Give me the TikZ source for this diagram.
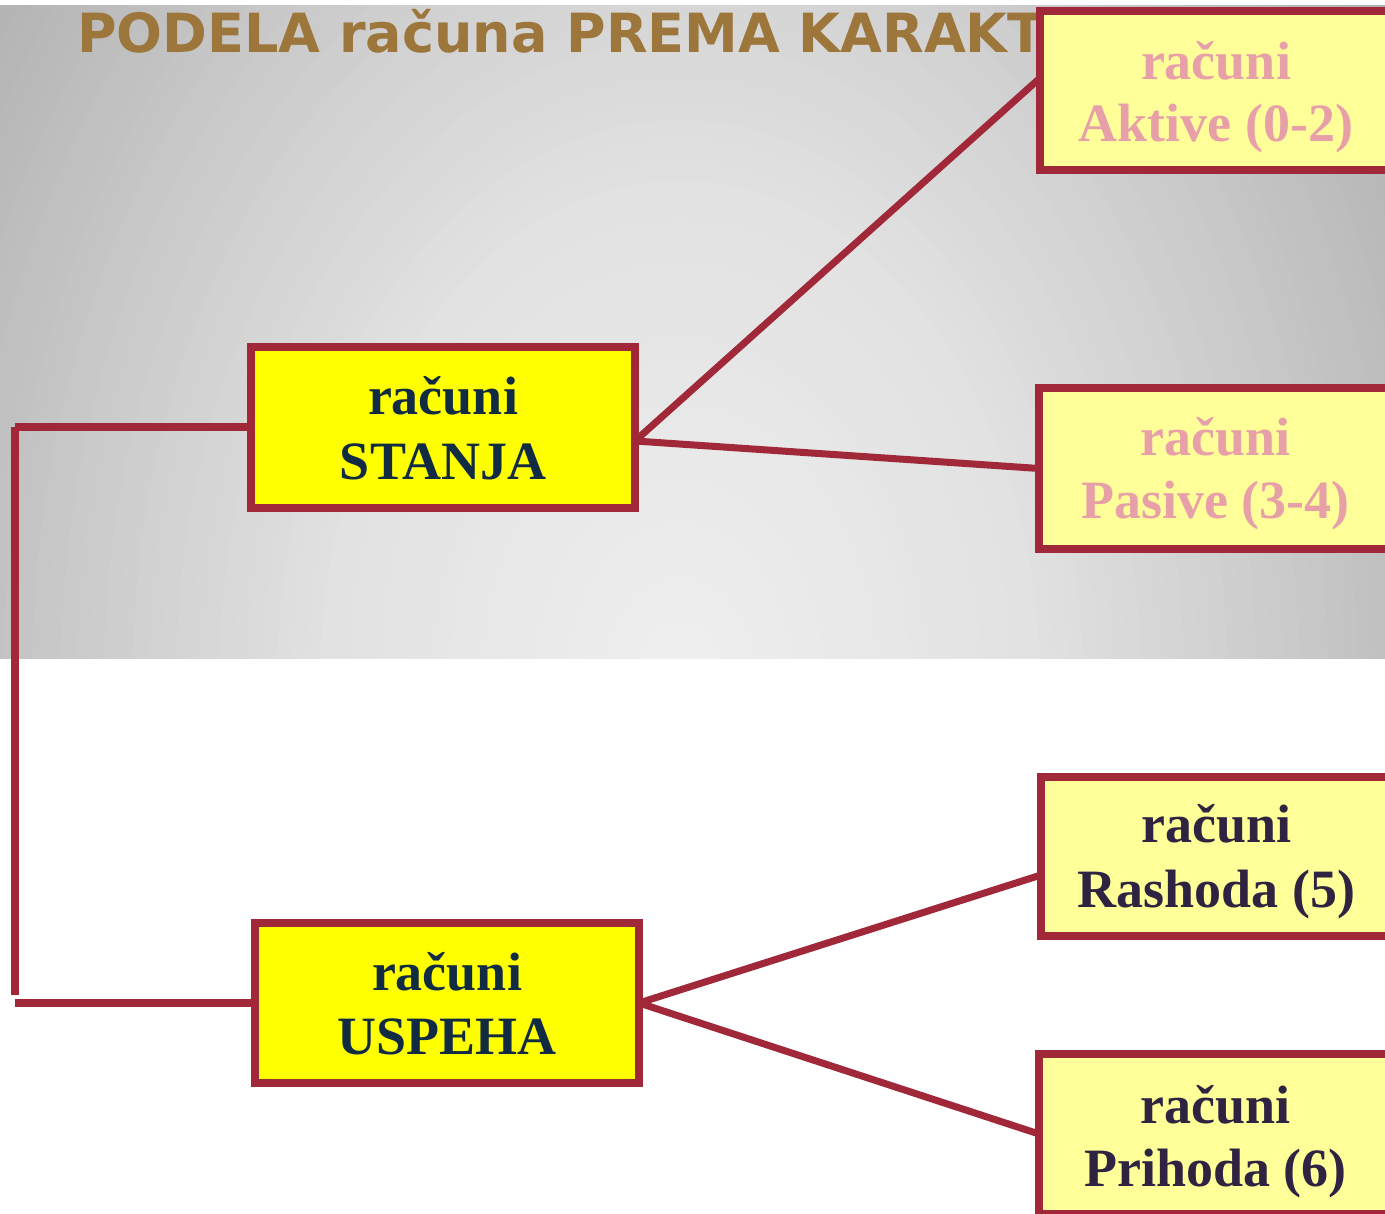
\documentclass[tikz,border=0pt]{standalone}
\usepackage{fontspec}
\setmainfont{Liberation Serif}
\newfontfamily\titlefont{DejaVu Sans}
\definecolor{conncol}{RGB}{160,40,56}
\definecolor{titlecol}{RGB}{156,118,58}
\definecolor{boxyellow}{RGB}{255,255,0}
\definecolor{paleyellow}{RGB}{255,255,153}
\definecolor{pinktext}{RGB}{232,160,168}
\definecolor{navytext}{RGB}{17,43,66}
\definecolor{plumtext}{RGB}{46,35,64}
\definecolor{bgouter}{RGB}{171,171,171}
\pgfdeclarelayer{bg}
\pgfdeclarelayer{lines}
\pgfsetlayers{bg,lines,main}
\begin{document}
\begin{tikzpicture}[x=1pt,y=-1pt,
  boxbase/.style={draw=conncol, line width=8pt, inner sep=0pt, outer sep=0pt, rectangle},
  mainbox/.style={boxbase, fill=boxyellow},
  subbox/.style={boxbase, fill=paleyellow},
  lbl/.style={font=\bfseries\fontsize{54}{64}\selectfont, anchor=base, inner sep=0pt, outer sep=0pt},
  conn/.style={draw=conncol, line width=7pt},
  bracket/.style={draw=conncol, line width=8pt}]
\useasboundingbox (0,0) rectangle (1385,1214);
\begin{pgfonlayer}{bg}
  \fill[white] (0,0) rectangle (1385,1214);
  \begin{scope}
    \clip (0,6) rectangle (1385,658);
    \fill[bgouter] (0,6) rectangle (1385,658);
    \foreach \i in {0,...,64} {
      \pgfmathsetmacro{\s}{1.3-0.02*\i}
      \pgfmathtruncatemacro{\v}{\s<0.5 ? 240-28*\s : (\s<0.75 ? 226-64*(\s-0.5) : (\s<1 ? 210-72*(\s-0.75) : 192-70*(\s-1)))}
      \pgfmathsetmacro{\rx}{720*\s}
      \pgfmathsetmacro{\ry}{1000*\s}
      \definecolor{tmpg}{RGB}{\v,\v,\v}
      \fill[tmpg] (680,680) ellipse [x radius=\rx pt, y radius=\ry pt];
    }
  \end{scope}
\end{pgfonlayer}
% title (partly covered by the first box)
\node[anchor=base west, inner sep=0pt, text=titlecol, font=\titlefont\bfseries\fontsize{54}{60}\selectfont] (title) at (77,53) {PODELA računa PREMA KARAKTE};
% boxes
\node[mainbox, minimum width=384pt, minimum height=161pt] (stanja) at (443,427.5) {};
\node[mainbox, minimum width=384pt, minimum height=160pt] (uspeha) at (447,1003) {};
\node[subbox, minimum width=352pt, minimum height=159pt] (aktive) at (1216,90.5) {};
\node[subbox, minimum width=353pt, minimum height=161pt] (pasive) at (1215.5,468.5) {};
\node[subbox, minimum width=351pt, minimum height=159pt] (rashoda) at (1216.5,856.5) {};
\node[subbox, minimum width=353pt, minimum height=160pt] (prihoda) at (1215.5,1134) {};
% box texts
\node[lbl, text=navytext] (stanjaA) at ([yshift=13pt]stanja.center) {računi};
\node[lbl, text=navytext] (stanjaB) at ([yshift=-51.5pt]stanja.center) {STANJA};
\node[lbl, text=navytext] (uspehaA) at ([yshift=13pt]uspeha.center) {računi};
\node[lbl, text=navytext] (uspehaB) at ([yshift=-51pt]uspeha.center) {USPEHA};
\node[lbl, text=pinktext] (aktiveA) at ([yshift=11pt]aktive.center) {računi};
\node[lbl, text=pinktext] (aktiveB) at ([yshift=-51.5pt]aktive.center) {Aktive (0-2)};
\node[lbl, text=pinktext] (pasiveA) at ([yshift=12.5pt]pasive.center) {računi};
\node[lbl, text=pinktext] (pasiveB) at ([yshift=-50pt]pasive.center) {Pasive (3-4)};
\node[lbl, text=plumtext] (rashodaA) at ([yshift=14pt]rashoda.center) {računi};
\node[lbl, text=plumtext] (rashodaB) at ([yshift=-50.5pt]rashoda.center) {Rashoda (5)};
\node[lbl, text=plumtext] (prihodaA) at ([yshift=11pt]prihoda.center) {računi};
\node[lbl, text=plumtext] (prihodaB) at ([yshift=-52pt]prihoda.center) {Prihoda (6)};
% connectors
\coordinate (ltop) at (15,427.5);
\coordinate (lbot) at (15,995);
\begin{pgfonlayer}{lines}
  \draw[conn] ([yshift=-13.5pt]stanja.east) -- ([yshift=12.5pt]aktive.west);
  \draw[conn] ([yshift=-13.5pt]stanja.east) -- (pasive.west);
  \draw[conn] (uspeha.east) -- ([yshift=-18.5pt]rashoda.west);
  \draw[conn] (uspeha.east) -- (prihoda.west);
  \draw[bracket] (stanja.west) -- (ltop);
  \draw[bracket] (ltop) -- (lbot);
  \draw[bracket] (uspeha.west) -- (uspeha.west -| ltop);
\end{pgfonlayer}
\end{tikzpicture}
\end{document}
